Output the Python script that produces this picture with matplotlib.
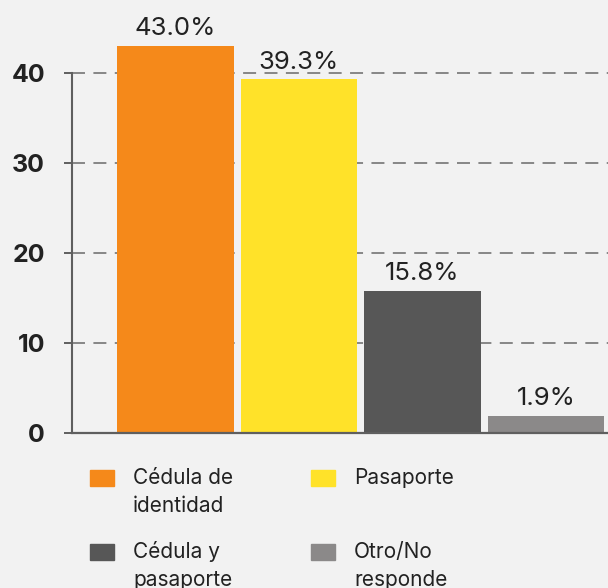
import matplotlib.pyplot as plt
from matplotlib.patches import Rectangle

categorias = ['Cédula de\nidentidad', 'Pasaporte', 'Cédula y\npasaporte', 'Otro/No\nresponde']
valores = [43.0, 39.3, 15.8, 1.9]
colores = ['#f5891a', '#ffe229', '#575757', '#8b8989']
ticks_y = [0, 10, 20, 30, 40]

plt.rcParams['font.family'] = ['Inter', 'DejaVu Sans']

W, H = 608, 588
fig = plt.figure(figsize=(W / 100, H / 100), dpi=100)
fig.patch.set_facecolor('#f2f2f2')
ax = fig.add_axes([72 / W, (H - 433) / H, (W - 72) / W, 433 / H])
ax.set_facecolor('none')

x = range(len(valores))
barras = ax.bar(x, valores, width=0.947, color=colores, zorder=2)
for b, v in zip(barras, valores):
    ax.annotate(f'{v:.1f}%', (b.get_x() + b.get_width() / 2, v), xytext=(0, 4),
                textcoords='offset points', ha='center', va='bottom',
                fontsize=18.5, color='#222222')

ax.set_xlim(-0.838, 3.502)
ax.set_ylim(0, 48.1)
ax.set_xticks([])
ax.set_yticks(ticks_y)
ax.set_axisbelow(True)
ax.yaxis.grid(True, linestyle=(0, (8.5, 5.5)), color='#6a6a6a', lw=1.1)

for s in ['top', 'right']:
    ax.spines[s].set_visible(False)
ax.spines['left'].set_bounds(0, 40)
ax.spines['left'].set_color('#5f5f5f')
ax.spines['left'].set_linewidth(1.5)
ax.spines['bottom'].set_color('#5f5f5f')
ax.spines['bottom'].set_linewidth(1.6)
ax.tick_params(axis='y', length=5.5, width=1.4, color='#5f5f5f', pad=14,
               labelsize=18, labelcolor='#222222')
for lab in ax.get_yticklabels():
    lab.set_fontweight('bold')

# leyenda manual, 2 columnas (va='baseline' usa la ultima linea)
for i, (cat, c) in enumerate(zip(categorias, colores)):
    col, fila = i % 2, i // 2
    x0 = 90 + col * 221
    y0 = 470 + fila * 74
    n = cat.count('\n')
    fig.add_artist(Rectangle((x0 / W, 1 - (y0 + 16) / H), 24 / W, 16 / H,
                             transform=fig.transFigure, color=c))
    fig.text((x0 + 43) / W, 1 - (y0 + 13.5 + n * 28) / H, cat, ha='left',
             va='baseline', fontsize=15, color='#222222', linespacing=1.5)

fig.savefig('out.png', dpi=100, facecolor=fig.get_facecolor())
